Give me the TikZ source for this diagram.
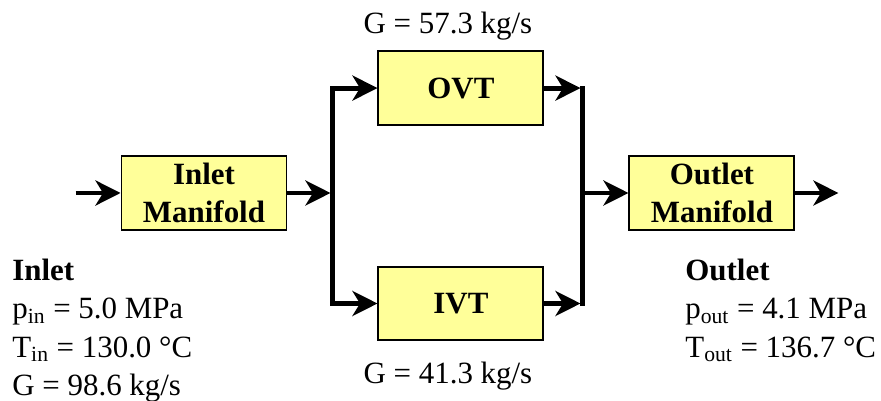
\documentclass[tikz,border=0pt]{standalone}
\usepackage{fontspec}
\setmainfont{Liberation Serif}
\usepackage{tikz}
\usepackage{xcolor}
\usetikzlibrary{arrows.meta, positioning, calc}
\definecolor{boxyellow}{RGB}{255,255,153}

\begin{document}
\begin{tikzpicture}[
  box/.style={draw=black,fill=boxyellow,line width=1.1pt,
    minimum width=3.3cm,minimum height=1.47cm,inner sep=0pt,
    font=\fontsize{17.6}{21.7}\selectfont\bfseries,align=center},
  info/.style={inner sep=0pt,align=left,font=\fontsize{17.6}{21.7}\selectfont},
  flow/.style={inner sep=0pt,font=\fontsize{17.6}{21.7}\selectfont},
  arr/.style={-{Stealth[length=0.5cm,width=0.5cm,inset=0.15cm]},line width=2.8pt},
  pipe/.style={line width=2.8pt,line cap=rect}]
  \useasboundingbox (0,0) rectangle (17.62,8);
  \node[box](inlet) at (4.08,4.14){Inlet\\Manifold};
  \node[box,above right=0.59cm and 1.8cm of inlet](ovt){OVT};
  \node[box,below=2.8cm of ovt](ivt){IVT};
  \node[box,right=6.82cm of inlet](outlet){Outlet\\Manifold};
  \node[flow,above=0.19cm of ovt,xshift=-0.26cm](govt){G = 57.3 kg/s};
  \node[flow,below=0.4cm of ivt,xshift=-0.26cm](givt){G = 41.3 kg/s};
  \node[info,anchor=north west](inletinfo) at (0.24,2.82)
    {\textbf{Inlet}\\p\textsubscript{in} = 5.0 MPa\\T\textsubscript{in} = 130.0 °C\\G = 98.6 kg/s};
  \node[info,anchor=north west](outletinfo) at (13.7,2.82)
    {\textbf{Outlet}\\p\textsubscript{out} = 4.1 MPa\\T\textsubscript{out} = 136.7 °C};
  \coordinate (in) at ($(inlet.west)+(-0.9,0)$);
  \coordinate (split) at ($(inlet.east)+(0.9,0)$);
  \coordinate (merge) at ($(outlet.west)+(-0.92,0)$);
  \coordinate (out) at ($(outlet.east)+(0.86,0)$);
  \draw[arr](in)--(inlet);
  \draw[arr,shorten >=0.04cm](inlet)--(split);
  \draw[arr](split)|-(ovt);\draw[arr](split)|-(ivt);
  \draw[arr,shorten >=0.04cm](ovt)--(merge|-ovt);
  \draw[arr,shorten >=0.04cm](ivt)--(merge|-ivt);
  \draw[pipe](merge|-ovt)--(merge|-ivt);
  \draw[arr](merge)--(outlet);\draw[arr](outlet)--(out);
\end{tikzpicture}
\end{document}
